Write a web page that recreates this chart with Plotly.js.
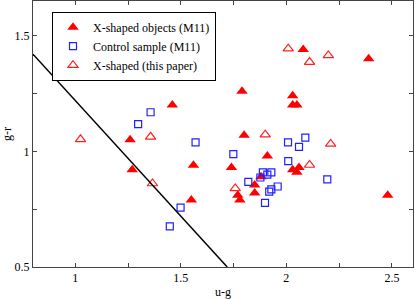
<!DOCTYPE html>
<html>
<head>
<meta charset="utf-8">
<script src="https://cdn.plot.ly/plotly-3.0.1.min.js"></script>
<style>html,body{margin:0;padding:0;background:#fff;}#chart{width:415px;height:299px;}</style>
</head>
<body>
<div id="chart"></div>
<script>
// X-shaped objects (M11): u-g, g-r
var m11X = [1.46, 1.26, 1.27, 1.56, 1.55, 1.79, 2.08, 2.03, 2.03, 2.05, 2.39, 1.80, 1.91, 1.74, 2.03, 2.06, 2.05, 1.88, 1.85, 1.85, 1.77, 1.78, 2.48];
var m11Y = [1.20, 1.05, 0.92, 0.94, 0.79, 1.26, 1.44, 1.24, 1.20, 1.20, 1.40, 1.07, 0.98, 0.93, 0.92, 0.93, 0.91, 0.89, 0.855, 0.82, 0.81, 0.79, 0.81];
// Control sample (M11)
var ctrlX = [1.357, 1.298, 1.57, 1.499, 1.448, 1.749, 2.008, 2.06, 2.09, 2.009, 2.194, 1.82, 1.889, 1.929, 1.91, 1.877, 1.959, 1.929, 1.919, 1.899];
var ctrlY = [1.169, 1.118, 1.039, 0.757, 0.676, 0.988, 1.039, 1.019, 1.059, 0.958, 0.879, 0.868, 0.909, 0.909, 0.899, 0.887, 0.848, 0.836, 0.826, 0.777];
// X-shaped (this paper)
var thisX = [1.025, 1.357, 1.366, 2.009, 2.11, 2.199, 1.90, 2.21, 1.758, 2.11];
var thisY = [1.052, 1.063, 0.861, 1.444, 1.386, 1.415, 1.072, 1.032, 0.84, 0.941];
// separation line u-r = 2.22
var lineX = [0.8, 1.72];
var lineY = [1.42, 0.5];

var xTicks = [1, 1.5, 2, 2.5];
var xTickText = ['1', '1.5', '2', '2.5'];
var yTicks = [0.5, 1, 1.5];
var yTickText = ['0.5', '1', '1.5'];

var font = {family: 'Liberation Serif, Times New Roman, serif', size: 12, color: '#000'};

var traces = [
  {x: m11X, y: m11Y, mode: 'markers', type: 'scatter', name: 'X-shaped objects (M11)',
   marker: {symbol: 'triangle-up', size: 10, color: '#ff0000', line: {width: 0}}},
  {x: ctrlX, y: ctrlY, mode: 'markers', type: 'scatter', name: 'Control sample (M11)',
   marker: {symbol: 'square-open', size: 7, color: '#2020ff', line: {width: 1.2, color: '#2020ff'}}},
  {x: thisX, y: thisY, mode: 'markers', type: 'scatter', name: 'X-shaped (this paper)',
   marker: {symbol: 'triangle-up-open', size: 9, color: '#ff2020', line: {width: 1.2, color: '#ff2020'}}},
  {x: lineX, y: lineY, mode: 'lines', type: 'scatter', showlegend: false,
   line: {color: '#000', width: 1.5}}
];

var axisCommon = {
  showgrid: false, zeroline: false, showline: true, linecolor: '#444', linewidth: 1,
  mirror: 'ticks', ticks: 'inside', ticklen: 4, tickcolor: '#444', tickfont: font
};

var layout = {
  width: 415, height: 299,
  margin: {l: 33, r: 2, t: 1, b: 32},
  paper_bgcolor: '#fff', plot_bgcolor: '#fff',
  font: font,
  xaxis: Object.assign({}, axisCommon, {
    range: [0.8, 2.6], tickmode: 'array', tickvals: xTicks, ticktext: xTickText,
    minor: {ticks: 'inside', ticklen: 4, tickcolor: '#444', tick0: 0, dtick: 0.25},
    title: {text: 'u-g', font: font, standoff: 4}
  }),
  yaxis: Object.assign({}, axisCommon, {
    range: [0.5, 1.65], tickmode: 'array', tickvals: yTicks, ticktext: yTickText,
    minor: {ticks: 'inside', ticklen: 4, tickcolor: '#444', tick0: 0, dtick: 0.25},
    title: {text: 'g-r', font: font, standoff: 2}
  }),
  showlegend: true,
  legend: {
    x: 0.05, y: 0.96, xanchor: 'left', yanchor: 'top',
    bgcolor: '#fff', bordercolor: '#000', borderwidth: 1,
    font: font, tracegroupgap: 0, itemwidth: 30
  }
};

Plotly.newPlot('chart', traces, layout, {displayModeBar: false, staticPlot: true});
</script>
</body>
</html>
